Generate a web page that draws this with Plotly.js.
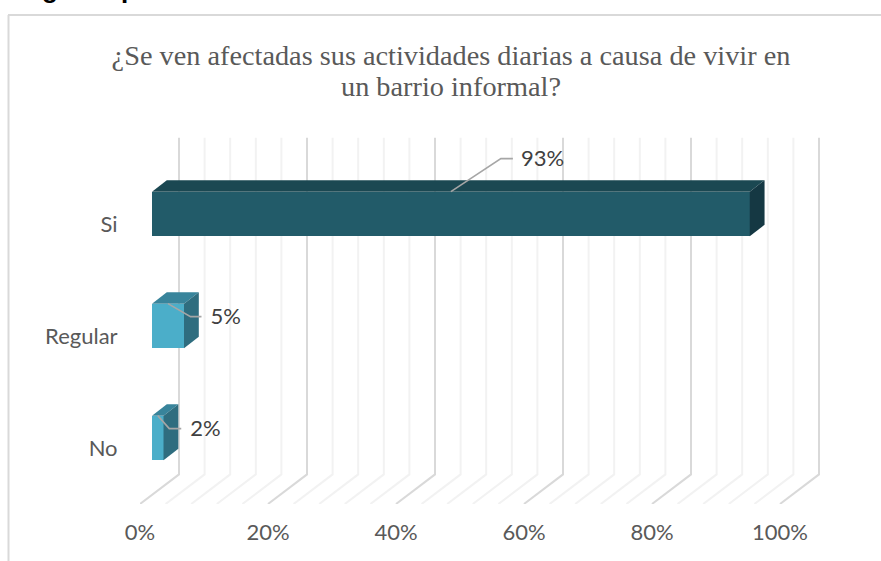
<!DOCTYPE html>
<html>
<head>
<meta charset="utf-8">
<script src="https://cdn.plot.ly/plotly-3.0.1.min.js"></script>
<style>html,body{margin:0;padding:0;background:#fff;overflow:hidden}#chart{width:881px;height:561px}</style>
</head>
<body>
<div id="chart"></div>
<script>
const categories = ['Si', 'Regular', 'No'];
const values = [93.4, 5, 1.8];
const xTicks = [0, 20, 40, 60, 80, 100];
const minorTicks = [4, 8, 12, 16, 24, 28, 32, 36, 44, 48, 52, 56, 64, 68, 72, 76, 84, 88, 92, 96];
const titleLine1 = '¿Se ven afectadas sus actividades diarias a causa de vivir en';
const titleLine2 = 'un barrio informal?';

const W = 881, H = 561;
const pxPerX = 6.4, pxPerY = 112;
const plotL = 140, plotR = 832, plotT = 112, plotB = 504;
const rows = categories.map((c, i) => categories.length - 1 - i);

const base = 12 / pxPerX;
const lift = 10 / pxPerY;
const barH = 44.7 / pxPerY;
const dX = 14.8 / pxPerX, dY = 11.5 / pxPerY;
const floorX = 39 / pxPerX, floorY = 29.6 / pxPerY, wallTop = 2.77, floorFront = -0.5;

const frontColors = ['#225B69', '#4BAEC9', '#4BAEC9'];
const topColors = ['#1B4852', '#38849B', '#38849B'];
const sideColors = ['#153843', '#2F6D7F', '#2F6D7F'];

function gridShape(x, color) {
  return {
    type: 'path', layer: 'below', xref: 'x', yref: 'y',
    path: `M${x},${floorFront} L${x + floorX},${floorFront + floorY} L${x + floorX},${wallTop}`,
    line: {color: color, width: 2}
  };
}
const shapes = [
  ...minorTicks.map(t => gridShape(t, '#F2F2F2')),
  ...xTicks.map(t => gridShape(t, '#D9D9D9')),
  {type: 'line', layer: 'below', xref: 'paper', yref: 'paper', x0: 8.5 / W, x1: 8.5 / W, y0: 0, y1: 1 - 15 / H, line: {color: '#D9D9D9', width: 2}},
  {type: 'line', layer: 'below', xref: 'paper', yref: 'paper', x0: 8 / W, x1: 1, y0: 1 - 15 / H, y1: 1 - 15 / H, line: {color: '#D9D9D9', width: 2}}
];

const traces = [];
traces.push({
  type: 'bar', orientation: 'h', x: values, y: rows.map(r => r + lift), base: base, width: barH,
  marker: {color: frontColors, line: {width: 0}}, hoverinfo: 'skip', showlegend: false
});
values.forEach((v, i) => {
  const y0 = rows[i] + lift - barH / 2, y1 = rows[i] + lift + barH / 2, xa = base, xb = base + v;
  traces.push({
    type: 'scatter', mode: 'lines', fill: 'toself', fillcolor: topColors[i],
    x: [xa, xb, xb + dX, xa + dX, xa], y: [y1, y1, y1 + dY, y1 + dY, y1],
    line: {width: 0, color: topColors[i]}, hoverinfo: 'skip', showlegend: false
  });
  traces.push({
    type: 'scatter', mode: 'lines', fill: 'toself', fillcolor: sideColors[i],
    x: [xb, xb + dX, xb + dX, xb, xb], y: [y0, y0 + dY, y1 + dY, y1, y0],
    line: {width: 0, color: sideColors[i]}, hoverinfo: 'skip', showlegend: false
  });
});
const leaderElbow = [[50, 33], [22.5, -13], [11.5, -13]];
const leaderRun = [12, 11, 12];
const labelGap = [8, 9, 9];
values.forEach((v, i) => {
  const yTop = rows[i] + lift + barH / 2;
  const x0 = base + v / 2;
  const ex = x0 + leaderElbow[i][0] / pxPerX, ey = yTop + leaderElbow[i][1] / pxPerY;
  const lx = ex + leaderRun[i] / pxPerX;
  traces.push({
    type: 'scatter', mode: 'lines',
    x: [x0, ex, lx], y: [yTop, ey, ey],
    line: {color: '#A6A6A6', width: 1.6}, hoverinfo: 'skip', showlegend: false
  });
  traces.push({
    type: 'scatter', mode: 'text',
    x: [lx + labelGap[i] / pxPerX], y: [ey - 2 / pxPerY],
    text: [Math.round(v) + '%'], textposition: 'middle right',
    textfont: {family: 'Lato, sans-serif', size: 22, color: '#404040'},
    hoverinfo: 'skip', showlegend: false, cliponaxis: false
  });
});

const layout = {
  width: W, height: H,
  margin: {l: 0, r: 0, t: 0, b: 0, pad: 0},
  paper_bgcolor: '#fff', plot_bgcolor: 'rgba(0,0,0,0)',
  showlegend: false,
  bargap: 0,
  title: {
    text: titleLine1, x: 451 / W, xanchor: 'center', y: 1 - 55 / H, yanchor: 'middle',
    font: {family: '"Liberation Serif", serif', size: 28.3, color: '#595959'}
  },
  xaxis: {
    domain: [plotL / W, plotR / W],
    range: [0, (plotR - plotL) / pxPerX],
    tickvals: xTicks, ticktext: xTicks.map(t => t + '%'),
    showgrid: false, zeroline: false, showline: false,
    ticks: 'outside', ticklen: 9, tickcolor: 'rgba(0,0,0,0)',
    tickfont: {family: 'Lato, sans-serif', size: 22, color: '#595959'}
  },
  yaxis: {
    domain: [1 - plotB / H, 1 - plotT / H],
    range: [floorFront, 3],
    tickvals: rows, ticktext: categories,
    showgrid: false, zeroline: false, showline: false,
    ticks: 'outside', ticklen: 17, tickcolor: 'rgba(0,0,0,0)',
    tickfont: {family: 'Lato, sans-serif', size: 22, color: '#595959'}
  },
  shapes: shapes,
  annotations: [
    {xref: 'paper', yref: 'paper', x: 451 / W, y: 1 - 86 / H, xanchor: 'center', yanchor: 'middle', text: titleLine2, showarrow: false, font: {family: '"Liberation Serif", serif', size: 28.3, color: '#595959'}},
    {xref: 'paper', yref: 'paper', x: 50 / W, y: 1 - 4 / H, xanchor: 'center', yanchor: 'bottom', yshift: -2, text: '<b>g</b>', showarrow: false, font: {family: '"Liberation Sans", sans-serif', size: 26, color: '#000'}},
    {xref: 'paper', yref: 'paper', x: 129 / W, y: 1 - 4 / H, xanchor: 'center', yanchor: 'bottom', yshift: -2, text: '<b>p</b>', showarrow: false, font: {family: '"Liberation Sans", sans-serif', size: 26, color: '#000'}}
  ]
};
Plotly.newPlot('chart', traces, layout, {displayModeBar: false, staticPlot: true});
</script>
</body>
</html>
